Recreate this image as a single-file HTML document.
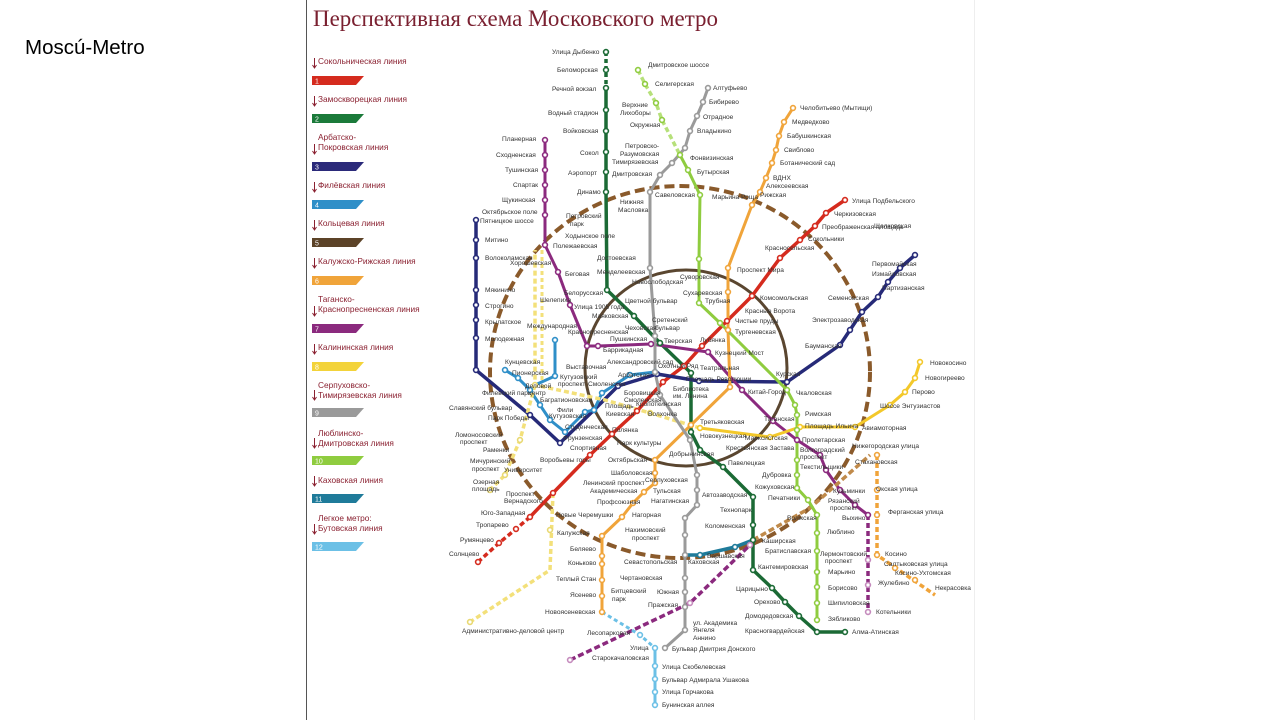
<!DOCTYPE html>
<html><head><meta charset="utf-8">
<style>
html,body{margin:0;padding:0;background:#fff;width:1280px;height:720px;overflow:hidden}
</style></head><body>
<svg id="s" width="1280" height="720" viewBox="0 0 1280 720" xmlns="http://www.w3.org/2000/svg">
<rect width="1280" height="720" fill="#fff"/>
<text x="25" y="54" font-family="Liberation Sans, sans-serif" font-size="20.5" fill="#000">Moscú-Metro</text>
<line x1="306.5" y1="0" x2="306.5" y2="720" stroke="#555" stroke-width="1"/>
<line x1="974.5" y1="0" x2="974.5" y2="720" stroke="#eee" stroke-width="1"/>
<text x="313" y="26" font-family="Liberation Serif, serif" font-size="23" fill="#7a2030" textLength="405" lengthAdjust="spacingAndGlyphs">Перспективная схема Московского метро</text>

<g font-family="Liberation Sans, sans-serif" font-size="8.3" fill="#8a2030">
<g id="leg"></g>
<text x="318" y="64">Сокольническая линия</text>
<text x="318" y="102">Замоскворецкая линия</text>
<text x="318" y="140">Арбатско-</text><text x="318" y="150">Покровская линия</text>
<text x="318" y="188">Филёвская линия</text>
<text x="318" y="226">Кольцевая линия</text>
<text x="318" y="264">Калужско-Рижская линия</text>
<text x="318" y="302">Таганско-</text><text x="318" y="312">Краснопресненская линия</text>
<text x="318" y="350">Калининская линия</text>
<text x="318" y="388">Серпуховско-</text><text x="318" y="398">Тимирязевская линия</text>
<text x="318" y="436">Люблинско-</text><text x="318" y="446">Дмитровская линия</text>
<text x="318" y="483">Каховская линия</text>
<text x="318" y="521">Легкое метро:</text><text x="318" y="531">Бутовская линия</text>
</g>
<g id="bars"></g>

<g fill="none" stroke-linejoin="round">
<ellipse cx="680" cy="372" rx="190" ry="186" stroke="#8a5a2b" stroke-width="4" stroke-dasharray="10 5"/>
<ellipse cx="686" cy="368" rx="101" ry="98" stroke="#5a4630" stroke-width="3"/>
<g id="lines"></g>
</g>
<g id="st"></g>

<g font-family="Liberation Sans, sans-serif" font-size="6.6" fill="#333">
<text x="552" y="54">Улица Дыбенко</text>
<text x="557" y="72">Беломорская</text>
<text x="552" y="91">Речной вокзал</text>
<text x="548" y="115">Водный стадион</text>
<text x="563" y="133">Войковская</text>
<text x="580" y="155">Сокол</text>
<text x="568" y="175">Аэропорт</text>
<text x="577" y="194">Динамо</text>
<text x="648" y="67">Дмитровское шоссе</text>
<text x="655" y="86">Селигерская</text>
<text x="713" y="90">Алтуфьево</text>
<text x="709" y="104">Бибирево</text>
<text x="703" y="119">Отрадное</text>
<text x="697" y="133">Владыкино</text>
<text x="622" y="107">Верхние</text><text x="620" y="115">Лихоборы</text>
<text x="630" y="127">Окружная</text>
<text x="625" y="148">Петровско-</text><text x="620" y="156">Разумовская</text>
<text x="612" y="164">Тимирязевская</text>
<text x="612" y="176">Дмитровская</text>
<text x="690" y="160">Фонвизинская</text>
<text x="697" y="174">Бутырская</text>
<text x="712" y="199">Марьина Роща</text>
<text x="655" y="197">Савеловская</text>
<text x="620" y="204">Нижняя</text><text x="618" y="212">Масловка</text>
<text x="800" y="110">Челобитьево (Мытищи)</text>
<text x="792" y="124">Медведково</text>
<text x="787" y="138">Бабушкинская</text>
<text x="784" y="152">Свиблово</text>
<text x="780" y="165">Ботанический сад</text>
<text x="773" y="180">ВДНХ</text>
<text x="766" y="188">Алексеевская</text>
<text x="760" y="197">Рижская</text>
<text x="852" y="203">Улица Подбельского</text>
<text x="834" y="216">Черкизовская</text>
<text x="822" y="229">Преображенская площадь</text>
<text x="808" y="241">Сокольники</text>
<text x="874" y="228">Щелковская</text>
<text x="872" y="266">Первомайская</text>
<text x="872" y="276">Измайловская</text>
<text x="882" y="290">Партизанская</text>
<text x="828" y="300">Семеновская</text>
<text x="812" y="322">Электрозаводская</text>
<text x="805" y="348">Бауманская</text>
<text x="765" y="250">Красносельская</text>
<text x="737" y="272">Проспект Мира</text>
<text x="760" y="300">Комсомольская</text>
<text x="745" y="313">Красные Ворота</text>
<text x="735" y="323">Чистые пруды</text>
<text x="735" y="334">Тургеневская</text>
<text x="502" y="141">Планерная</text>
<text x="496" y="157">Сходненская</text>
<text x="505" y="172">Тушинская</text>
<text x="513" y="187">Спартак</text>
<text x="502" y="202">Щукинская</text>
<text x="482" y="214">Октябрьское поле</text>
<text x="480" y="223">Пятницкое шоссе</text>
<text x="485" y="242">Митино</text>
<text x="485" y="260">Волоколамская</text>
<text x="485" y="292">Мякинино</text>
<text x="485" y="308">Строгино</text>
<text x="485" y="324">Крылатское</text>
<text x="485" y="341">Молодежная</text>
<text x="566" y="218">Петровский</text><text x="570" y="226">парк</text>
<text x="565" y="238">Ходынское поле</text>
<text x="553" y="248">Полежаевская</text>
<text x="510" y="265">Хорошевская</text>
<text x="565" y="276">Беговая</text>
<text x="597" y="260">Достоевская</text>
<text x="597" y="274">Менделеевская</text>
<text x="632" y="284">Новослободская</text>
<text x="680" y="279">Суворовская</text>
<text x="683" y="295">Сухаревская</text>
<text x="705" y="303">Трубная</text>
<text x="564" y="295">Белорусская</text>
<text x="540" y="302">Шелепиха</text>
<text x="574" y="309">Улица 1905 года</text>
<text x="625" y="303">Цветной бульвар</text>
<text x="592" y="318">Маяковская</text>
<text x="652" y="322">Сретенский</text><text x="655" y="330">бульвар</text>
<text x="527" y="328">Международная</text>
<text x="568" y="334">Краснопресненская</text>
<text x="625" y="330">Чеховская</text>
<text x="610" y="341">Пушкинская</text>
<text x="664" y="343">Тверская</text>
<text x="700" y="342">Лубянка</text>
<text x="603" y="352">Баррикадная</text>
<text x="715" y="355">Кузнецкий Мост</text>
<text x="607" y="364">Александровский сад</text>
<text x="658" y="368">Охотный Ряд</text>
<text x="700" y="370">Театральная</text>
<text x="686" y="381">Площадь Революции</text>
<text x="505" y="364">Кунцевская</text>
<text x="512" y="375">Пионерская</text>
<text x="566" y="369">Выставочная</text>
<text x="560" y="379">Кутузовский</text><text x="558" y="386">проспект</text>
<text x="525" y="388">Деловой</text><text x="528" y="395">центр</text>
<text x="482" y="395">Филевский парк</text>
<text x="588" y="386">Смоленская</text>
<text x="618" y="377">Арбатская</text>
<text x="540" y="402">Багратионовская</text>
<text x="449" y="410">Славянский бульвар</text>
<text x="488" y="420">Парк Победы</text>
<text x="557" y="412">Фили</text>
<text x="549" y="418">Кутузовская</text>
<text x="624" y="395">Боровицкая</text>
<text x="624" y="402">Смоленская</text>
<text x="673" y="391">Библиотека</text><text x="673" y="398">им. Ленина</text>
<text x="605" y="408">Площадь</text>
<text x="606" y="416">Киевская</text>
<text x="636" y="406">Кропоткинская</text>
<text x="648" y="416">Волхонка</text>
<text x="748" y="394">Китай-Город</text>
<text x="776" y="376">Курская</text>
<text x="796" y="395">Чкаловская</text>
<text x="764" y="421">Таганская</text>
<text x="805" y="416">Римская</text>
<text x="805" y="428">Площадь Ильича</text>
<text x="862" y="430">Авиамоторная</text>
<text x="930" y="365">Новокосино</text>
<text x="925" y="380">Новогиреево</text>
<text x="912" y="394">Перово</text>
<text x="880" y="408">Шоссе Энтузиастов</text>
<text x="455" y="437">Ломоносовский</text><text x="460" y="444">проспект</text>
<text x="483" y="452">Раменки</text>
<text x="470" y="463">Мичуринский</text><text x="472" y="471">проспект</text>
<text x="565" y="429">Студенческая</text>
<text x="612" y="432">Полянка</text>
<text x="563" y="440">Фрунзенская</text>
<text x="617" y="445">Парк культуры</text>
<text x="570" y="450">Спортивная</text>
<text x="700" y="424">Третьяковская</text>
<text x="700" y="438">Новокузнецкая</text>
<text x="745" y="440">Марксистская</text>
<text x="802" y="442">Пролетарская</text>
<text x="852" y="448">Нижегородская улица</text>
<text x="726" y="450">Крестьянская Застава</text>
<text x="800" y="452">Волгоградский</text><text x="800" y="459">проспект</text>
<text x="540" y="462">Воробьевы горы</text>
<text x="608" y="462">Октябрьская</text>
<text x="669" y="456">Добрынинская</text>
<text x="728" y="465">Павелецкая</text>
<text x="800" y="469">Текстильщики</text>
<text x="855" y="464">Стахановская</text>
<text x="504" y="472">Университет</text>
<text x="473" y="484">Озерная</text><text x="472" y="491">площадь</text>
<text x="611" y="475">Шаболовская</text>
<text x="583" y="485">Ленинский проспект</text>
<text x="590" y="493">Академическая</text>
<text x="645" y="482">Серпуховская</text>
<text x="653" y="493">Тульская</text>
<text x="702" y="497">Автозаводская</text>
<text x="762" y="477">Дубровка</text>
<text x="755" y="489">Кожуховская</text>
<text x="768" y="500">Печатники</text>
<text x="833" y="493">Кузьминки</text>
<text x="876" y="491">Окская улица</text>
<text x="506" y="496">Проспект</text><text x="504" y="503">Вернадского</text>
<text x="597" y="504">Профсоюзная</text>
<text x="651" y="503">Нагатинская</text>
<text x="720" y="512">Технопарк</text>
<text x="828" y="503">Рязанский</text><text x="830" y="510">проспект</text>
<text x="842" y="520">Выхино</text>
<text x="888" y="514">Ферганская улица</text>
<text x="481" y="515">Юго-Западная</text>
<text x="556" y="517">Новые Черемушки</text>
<text x="632" y="517">Нагорная</text>
<text x="787" y="520">Волжская</text>
<text x="476" y="527">Тропарево</text>
<text x="557" y="535">Калужская</text>
<text x="625" y="532">Нахимовский</text><text x="632" y="540">проспект</text>
<text x="705" y="528">Коломенская</text>
<text x="827" y="534">Люблино</text>
<text x="460" y="542">Румянцево</text>
<text x="762" y="543">Каширская</text>
<text x="707" y="558">Варшавская</text>
<text x="765" y="553">Братиславская</text>
<text x="570" y="551">Беляево</text>
<text x="820" y="556">Лермонтовский</text><text x="825" y="563">проспект</text>
<text x="885" y="556">Косино</text>
<text x="449" y="556">Солнцево</text>
<text x="624" y="564">Севастопольская</text>
<text x="688" y="564">Каховская</text>
<text x="758" y="569">Кантемировская</text>
<text x="884" y="566">Салтыковская улица</text>
<text x="568" y="565">Коньково</text>
<text x="828" y="574">Марьино</text>
<text x="895" y="575">Косино-Ухтомская</text>
<text x="556" y="581">Теплый Стан</text>
<text x="620" y="580">Чертановская</text>
<text x="878" y="585">Жулебино</text>
<text x="736" y="591">Царицыно</text>
<text x="828" y="590">Борисово</text>
<text x="935" y="590">Некрасовка</text>
<text x="570" y="597">Ясенево</text>
<text x="611" y="593">Битцевский</text><text x="612" y="601">парк</text>
<text x="657" y="594">Южная</text>
<text x="754" y="604">Орехово</text>
<text x="828" y="605">Шипиловская</text>
<text x="648" y="607">Пражская</text>
<text x="545" y="614">Новоясеневская</text>
<text x="693" y="625">ул. Академика</text><text x="693" y="632">Янгеля</text>
<text x="745" y="618">Домодедовская</text>
<text x="828" y="621">Зябликово</text>
<text x="876" y="614">Котельники</text>
<text x="587" y="635">Лесопарковая</text>
<text x="462" y="633">Административно-деловой центр</text>
<text x="693" y="640">Аннино</text>
<text x="745" y="633">Красногвардейская</text>
<text x="852" y="634">Алма-Атинская</text>
<text x="630" y="650">Улица</text><text x="592" y="660">Старокачаловская</text>
<text x="672" y="651">Бульвар Дмитрия Донского</text>
<text x="662" y="669">Улица Скобелевская</text>
<text x="662" y="682">Бульвар Адмирала Ушакова</text>
<text x="662" y="694">Улица Горчакова</text>
<text x="662" y="707">Бунинская аллея</text>
</g>

<script>
var NS="http://www.w3.org/2000/svg";
function el(p,t,a){var e=document.createElementNS(NS,t);for(var k in a)e.setAttribute(k,a[k]);document.getElementById(p).appendChild(e);return e;}
var legCols=["#d52b1e","#1b7a3a","#2b2a7a","#2f8fc8","#5c4328","#f0a43a","#8b2a7e","#f3d33a","#9a9a9a","#8fcc3f","#1f7b9a","#6cc0e6"];
var legY=[76,114,162,200,238,276,324,362,408,456,494,542];
legCols.forEach(function(c,i){var y=legY[i];
 el("bars","polygon",{points:"312,"+y+" 364,"+y+" 356,"+(y+9)+" 312,"+(y+9),fill:c});
 var t=el("bars","text",{x:315,y:y+7.5,"font-size":"7","font-family":"Liberation Sans, sans-serif",fill:"#fff"});t.textContent=String(i+1);
 el("leg","path",{d:"M314.5 "+(y-18)+" v9 m-2 -2 l2 3 l2 -3",stroke:"#8a2030",fill:"none","stroke-width":"1"});
});
function P(a){return a.map(function(p){return p.join(",")}).join(" ");}
function line(pts,c,w,dash){var a={points:P(pts),stroke:c,"stroke-width":w||3,"stroke-linecap":dash?"butt":"round"};if(dash)a["stroke-dasharray"]=dash;el("lines","polyline",a);}
function st(pts,c){pts.forEach(function(p){el("st","circle",{cx:p[0],cy:p[1],r:2.4,fill:"#fff",stroke:c,"stroke-width":1.6});});}
var red=[[845,200],[826,213],[815,226],[800,240],[780,258],[752,296],[727,321],[702,346],[684,366],[663,382],[637,411],[612,434],[590,455],[553,493],[530,517]];
line(red,"#d52b1e",3.5);line([[530,517],[516,529],[499,543],[478,562]],"#d52b1e",3.5,"5 3");st(red.concat([[516,529],[499,543],[478,562]]),"#d52b1e");
line([[606,52],[606,88]],"#1b6a35",3.5,"4 3");
var gr=[[606,88],[606,110],[606,131],[606,152],[606,172],[606,192],[607,290],[634,316],[660,343],[691,373],[691,432],[700,450],[723,467],[753,497],[753,525],[753,540],[753,570],[772,588],[785,602],[799,616],[817,632],[845,632]];
line(gr,"#1b6a35",3.5);st(gr.concat([[606,52],[606,70]]),"#1b6a35");
var nv=[[915,255],[900,268],[888,282],[878,297],[862,312],[850,330],[840,345],[787,382],[699,381],[657,374],[618,386],[594,410],[560,443],[530,415],[476,370],[476,338],[476,320],[476,305],[476,290],[476,258],[476,240],[476,220]];
line(nv,"#262a78",3.5);st(nv,"#262a78");
var fb=[[655,372],[630,375],[602,393],[594,410],[585,412],[565,432],[550,420],[540,405],[530,390],[518,378],[505,370]];
line(fb,"#2f8fc8",3);st(fb,"#2f8fc8");line([[555,340],[555,376],[535,385]],"#2f8fc8",3);st([[555,340],[555,376]],"#2f8fc8");
var pu=[[545,140],[545,155],[545,170],[545,185],[545,200],[545,215],[545,245],[558,272],[570,305],[587,346],[598,346],[651,344],[708,352],[742,390],[773,421],[797,440],[820,455],[826,470],[840,490],[855,505],[868,515]];
line(pu,"#8b2a7e",3);st(pu,"#8b2a7e");line([[868,515],[868,560],[868,585],[868,612]],"#8b2a7e",3.5,"5 3");st([[868,560],[868,585],[868,612]],"#c58bbd");
line([[570,660],[690,603],[750,545]],"#8b2a7e",3.5,"6 3");st([[570,660],[690,603],[750,545]],"#c58bbd");
var or=[[793,108],[784,122],[779,136],[776,150],[772,163],[766,178],[760,192],[752,205],[728,268],[728,292],[728,330],[730,387],[691,425],[655,460],[655,473],[655,483],[644,492],[633,503],[622,517],[602,536],[602,556],[602,564],[602,580],[602,596],[602,612]];
line(or,"#f0a43a",3);st(or,"#f0a43a");
line([[753,540],[810,508],[870,455]],"#c08a4a",3.5,"6 3");line([[877,455],[877,555],[935,595]],"#f0a43a",3.5,"5 3");st([[877,455],[877,490],[877,515],[877,555],[895,568],[915,580]],"#f0a43a");
var ye=[[920,362],[915,378],[905,392],[890,405],[855,427],[800,427],[770,437],[700,428]];
line(ye,"#f3c82a",3);st(ye,"#f3c82a");
line([[700,428],[650,413],[605,400],[535,385],[535,250]],"#f3e07a",3.5,"5 3");line([[542,250],[542,380]],"#f3e07a",3,"4 3");
line([[535,385],[520,440],[505,475],[490,490]],"#f3e07a",3.5,"5 3");line([[553,493],[550,570],[470,622]],"#f3e07a",3.5,"5 3");st([[650,413],[535,385],[520,440],[505,475],[490,490],[550,530],[470,622]],"#e8d870");
var gy=[[708,88],[703,102],[697,116],[690,131],[685,148],[672,163],[660,175],[650,192],[650,268],[655,336],[655,372],[660,395],[690,440],[697,475],[697,490],[697,505],[685,518],[685,535],[685,555],[685,578],[685,592],[685,607],[685,630],[665,648]];
line(gy,"#9a9a9a",3);st(gy,"#9a9a9a");
var lg=[[638,70],[645,84],[656,103],[662,120],[680,155],[688,170],[700,195],[699,259],[699,303],[720,323],[787,390],[795,405],[797,415],[797,430],[797,460],[797,475],[797,488],[808,500],[817,515],[817,533],[817,551],[817,572],[817,587],[817,603],[817,620]];
line(lg.slice(0,5),"#b6e07a",3.5,"5 3");line(lg.slice(4),"#8fcc3f",3);st(lg,"#8fcc3f");
line([[685,555],[700,555],[735,547],[753,540]],"#1f7b9a",3.5);st([[700,555],[735,547]],"#1f7b9a");
line([[602,612],[640,635],[655,648]],"#6cc0e6",3,"4 3");line([[655,648],[655,705]],"#6cc0e6",3);st([[640,635],[655,648],[655,666],[655,679],[655,692],[655,705]],"#6cc0e6");
</script>
</svg>
</body></html>
